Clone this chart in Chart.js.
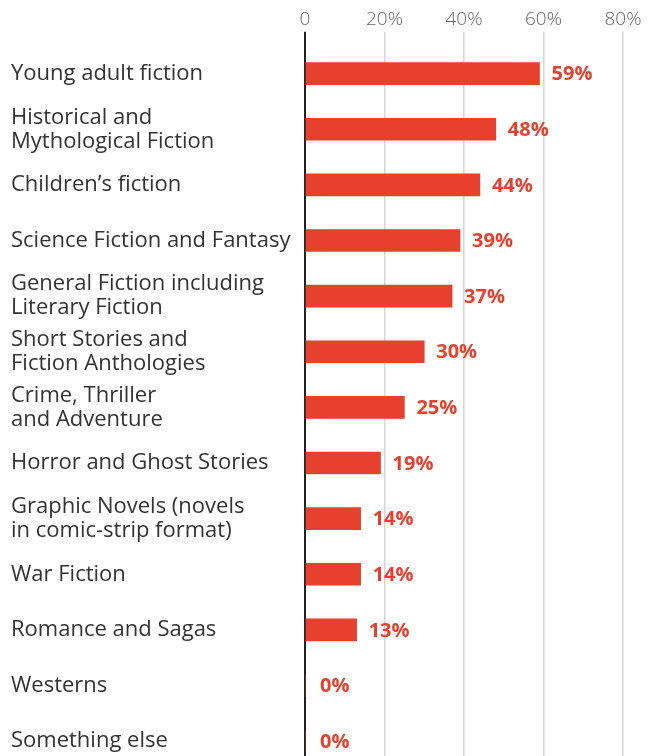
<!DOCTYPE html>
<html>
<head>
<meta charset="utf-8">
<script src="https://cdn.jsdelivr.net/npm/chart.js@4"></script>
<style>
  html, body { margin: 0; padding: 0; background: #fff; overflow: hidden; }
  #wrap { width: 662px; height: 781px; position: relative; }
</style>
</head>
<body>
<div id="wrap"><canvas id="chart"></canvas></div>
<script>
const genres = [
  'Young adult fiction',
  ['Historical and', 'Mythological Fiction'],
  'Children\u2019s fiction',
  'Science Fiction and Fantasy',
  ['General Fiction including', 'Literary Fiction'],
  ['Short Stories and', 'Fiction Anthologies'],
  ['Crime, Thriller', 'and Adventure'],
  'Horror and Ghost Stories',
  ['Graphic Novels (novels', 'in comic-strip format)'],
  'War Fiction',
  'Romance and Sagas',
  'Westerns',
  'Something else'
];
const shares = [59, 48, 44, 39, 37, 30, 25, 19, 14, 14, 13, 0, 0];
const xTicks = [0, 20, 40, 60, 80];

const RED = '#e8402f';
const FONT = "'Open Sans', sans-serif";

// percentage labels next to each bar
const valueLabels = {
  id: 'valueLabels',
  afterDatasetsDraw(chart) {
    const ctx = chart.ctx;
    const meta = chart.getDatasetMeta(0);
    ctx.save();
    ctx.fillStyle = RED;
    ctx.font = "bold 20px " + FONT;
    ctx.textBaseline = 'middle';
    meta.data.forEach((bar, i) => {
      const x = shares[i] === 0 ? bar.x + 15 : bar.x + 12;
      ctx.fillText(shares[i] + '%', x, bar.y + 1);
    });
    ctx.restore();
  }
};

new Chart(document.getElementById('chart'), {
  type: 'bar',
  data: {
    labels: genres,
    datasets: [{
      data: shares,
      backgroundColor: RED,
      barThickness: 22,
      borderWidth: 0
    }]
  },
  options: {
    indexAxis: 'y',
    responsive: true,
    maintainAspectRatio: false,
    animation: false,
    layout: { padding: { left: 11, right: 39, top: 7, bottom: 0 } },
    plugins: { legend: { display: false }, tooltip: { enabled: false } },
    scales: {
      x: {
        position: 'top',
        min: 0, max: 80,
        afterBuildTicks(scale) { scale.ticks = xTicks.map(v => ({ value: v })); },
        border: { display: false },
        grid: {
          color: c => c.tick && c.tick.value === 0 ? '#222' : '#d6d6d6',
          lineWidth: c => c.tick && c.tick.value === 0 ? 2 : 1.5,
          tickLength: 14
        },
        ticks: {
          padding: 1,
          color: '#666',
          font: { family: FONT, size: 19, weight: '300' },
          callback: v => v === 0 ? '0' : v + '%'
        }
      },
      y: {
        afterFit(scale) { scale.width = 294; },
        border: { color: '#222', width: 2 },
        grid: { display: false },
        ticks: {
          crossAlign: 'far',
          padding: 0,
          color: '#333',
          font: { family: FONT, size: 22, lineHeight: '24px' }
        }
      }
    }
  },
  plugins: [valueLabels]
});
</script>
</body>
</html>
